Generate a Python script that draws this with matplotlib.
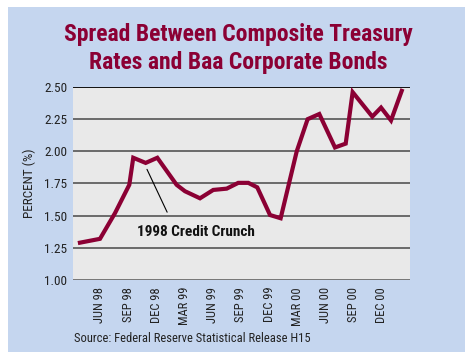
import matplotlib
matplotlib.use('Agg')
import matplotlib.pyplot as plt
import matplotlib.patches as patches

# months counted from Jan 1998 = 0
months = [2.87, 5.0, 6.6, 8.12, 8.54, 9.86, 11.1, 13.15, 14.04, 15.64, 17.05,
          18.48, 19.71, 20.78, 21.73, 23.09, 24.22, 25.93, 27.09, 28.33,
          30.0, 31.14, 31.88, 33.97, 34.9, 35.96, 37.1]
spread = [1.29, 1.32, 1.52, 1.74, 1.95, 1.91, 1.95, 1.74, 1.69, 1.635, 1.70,
          1.71, 1.755, 1.755, 1.72, 1.505, 1.48, 2.00, 2.25, 2.29,
          2.03, 2.06, 2.46, 2.27, 2.34, 2.24, 2.47]

tick_months = [5, 8, 11, 14, 17, 20, 23, 26, 29, 32, 35]
tick_labels = ['JUN 98', 'SEP 98', 'DEC 98', 'MAR 99', 'JUN 99', 'SEP 99',
               'DEC 99', 'MAR 00', 'JUN 00', 'SEP 00', 'DEC 00']
y_ticks = [1.00, 1.25, 1.50, 1.75, 2.00, 2.25, 2.50]

MAROON = '#8b0034'
BLUE = '#c5d6ef'
NARROW = ['Roboto Condensed', 'Archivo Narrow', 'DejaVu Sans']

fig = plt.figure(figsize=(4.65, 3.52), dpi=100, facecolor=BLUE)
# white margin strips on the left and top
fig.patches.append(patches.Rectangle((0, 0), 8 / 465, 1, transform=fig.transFigure,
                                     facecolor='white', edgecolor='none', zorder=-1))
fig.patches.append(patches.Rectangle((0, 1 - 7 / 352), 1, 7 / 352,
                                     transform=fig.transFigure,
                                     facecolor='white', edgecolor='none', zorder=-1))

ax = fig.add_axes([73 / 465, 1 - 280 / 352, 337 / 465, 193 / 352])
ax.set_facecolor('#e9e9e9')

for v in y_ticks[1:-1]:
    ax.axhline(v, color='#555555', linewidth=1.2, zorder=1)
ax.axhline(2.50, color='black', linewidth=1.3, zorder=1)
ax.axhline(1.00, color='#555555', linewidth=1.8, zorder=1)

ax.plot(months, spread, color=MAROON, linewidth=3.0, solid_joinstyle='miter',
        zorder=3)

ax.annotate('1998 Credit Crunch', xy=(10.0, 1.86), xytext=(8.9, 1.373),
            fontsize=11, fontweight='bold', family=NARROW, color='#111111',
            ha='left', va='center',
            arrowprops=dict(arrowstyle='-', color='black', linewidth=0.8,
                            shrinkA=8, shrinkB=0,
                            relpos=(0.31, 1.0)))

ax.set_xlim(2.13, 37.98)
ax.set_ylim(1.0, 2.5)
ax.set_yticks(y_ticks)
ax.set_yticklabels([f'{v:.2f}' for v in y_ticks], family=NARROW, fontsize=9.5,
                   color='#222222')
ax.set_xticks(tick_months)
ax.set_xticklabels(tick_labels, rotation=90, family=NARROW, fontsize=9,
                   color='#222222')
ax.tick_params(length=0, pad=4)
ax.tick_params(axis='x', pad=5)
for s in ax.spines.values():
    s.set_visible(False)

ax.set_ylabel('PERCENT (%)', family=NARROW, fontsize=9.5, color='#222222',
              labelpad=6)

fig.text(0.512, 1 - 35 / 352, 'Spread Between Composite Treasury',
         ha='center', va='center', fontsize=17, fontweight='bold',
         family=NARROW, color=MAROON)
fig.text(0.512, 1 - 62 / 352, 'Rates and Baa Corporate Bonds',
         ha='center', va='center', fontsize=17, fontweight='bold',
         family=NARROW, color=MAROON)

fig.text(74 / 465, 1 - 339 / 352, 'Source: Federal Reserve Statistical Release H15',
         ha='left', va='center', fontsize=9, family=NARROW, color='#222222')

fig.savefig('out.png', dpi=100, facecolor=BLUE)
